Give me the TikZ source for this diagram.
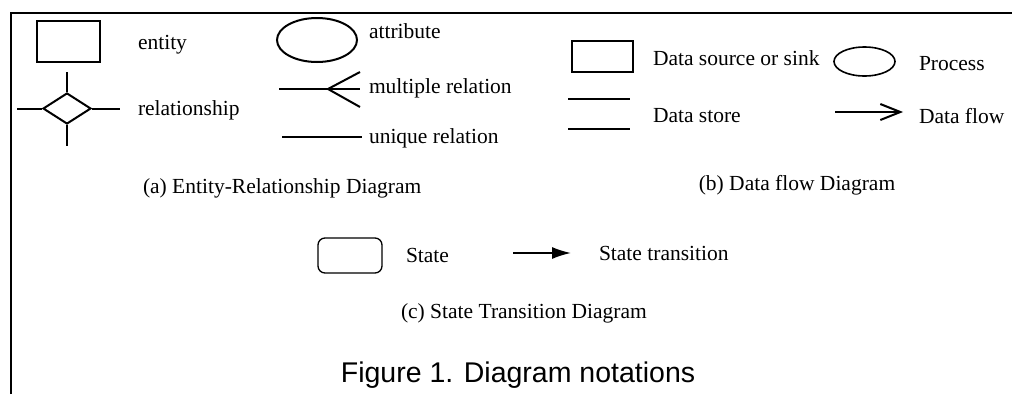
\documentclass[tikz,border=0pt]{standalone}
\usepackage{fontspec}
\setmainfont{Liberation Serif}
\newfontfamily\capfont{Liberation Sans}
\usepackage{tikz}
\usetikzlibrary{shapes.geometric,arrows.meta}

\begin{document}
\begin{tikzpicture}[x=1pt, y=-1pt, line width=2pt,
        txt/.style={anchor=base west, inner sep=0pt, font=\fontsize{21.5}{26}\selectfont},
        sym/.style={draw, inner sep=0pt}]
        \useasboundingbox (0,0) rectangle (1012,394);
        \draw[line width=2.4pt] (11,394) -- (11,13) -- (1012,13);
        % (a) entity-relationship
        \node[sym, rectangle, minimum width=63pt, minimum height=41pt] (entity) at (68.5,41.5) {};
        \node[txt] (entitytxt) at (137,49) {entity};
        \node[sym, diamond, minimum width=48pt, minimum height=31pt] (rel) at (67,108.5) {};
        \draw (rel.west) -- ++(-25,0);
        \draw (rel.east) -- ++(28,0);
        \draw (rel.north) -- ++(0,-20);
        \draw (rel.south) -- ++(0,21);
        \node[txt] (reltxt) at (137,115) {relationship};
        \node[sym, ellipse, minimum width=80pt, minimum height=44pt] (attr) at (317,40) {};
        \node[txt] (attrtxt) at (368,38) {attribute};
        \coordinate (fork) at (328,89);
        \draw (279,89) -- (fork) -- (360,89);
        \draw (360,72) -- (fork) -- (360,107);
        \node[txt] (multtxt) at (368,93) {multiple relation};
        \draw (282,137) -- (362,137);
        \node[txt] (unitxt) at (368,143) {unique relation};
        \node[txt] (capa) at (142,193) {(a) Entity-Relationship Diagram};
        % (b) data flow
        \node[sym, rectangle, line width=1.6pt, minimum width=61pt, minimum height=31pt] (source) at (602.5,56.5) {};
        \node[txt] (sourcetxt) at (652,65) {Data source or sink};
        \node[sym, ellipse, line width=1.6pt, minimum width=61pt, minimum height=29pt] (proc) at (864.5,61.5) {};
        \node[txt] (proctxt) at (918,70) {Process};
        \draw (568,99) -- (630,99);
        \draw (568,129) -- (630,129);
        \node[txt] (storetxt) at (652,122) {Data store};
        \draw[-{Straight Barb[length=20pt,width=16pt]}] (835,112) -- (903,112);
        \node[txt] (flowtxt) at (918,123) {Data flow};
        \node[txt, anchor=base] (capb) at (797,190) {(b) Data flow Diagram};
        % (c) state transition
        \node[sym, rectangle, rounded corners=7pt, line width=1.3pt, minimum width=64pt, minimum height=35pt] (state) at (350,255.5) {};
        \node[txt] (statetxt) at (405,262) {State};
        \draw[line width=1.5pt, -{Latex[length=19pt,width=12pt]}] (513,253) -- (571,253);
        \node[txt] (transtxt) at (598,260) {State transition};
        \node[txt] (capc) at (400,318) {(c) State Transition Diagram};
        \node[anchor=base, inner sep=0pt, font=\capfont\fontsize{28.5}{34}\selectfont] (fig) at (518,382) {Figure 1. Diagram notations};
    \end{tikzpicture}
\end{document}
